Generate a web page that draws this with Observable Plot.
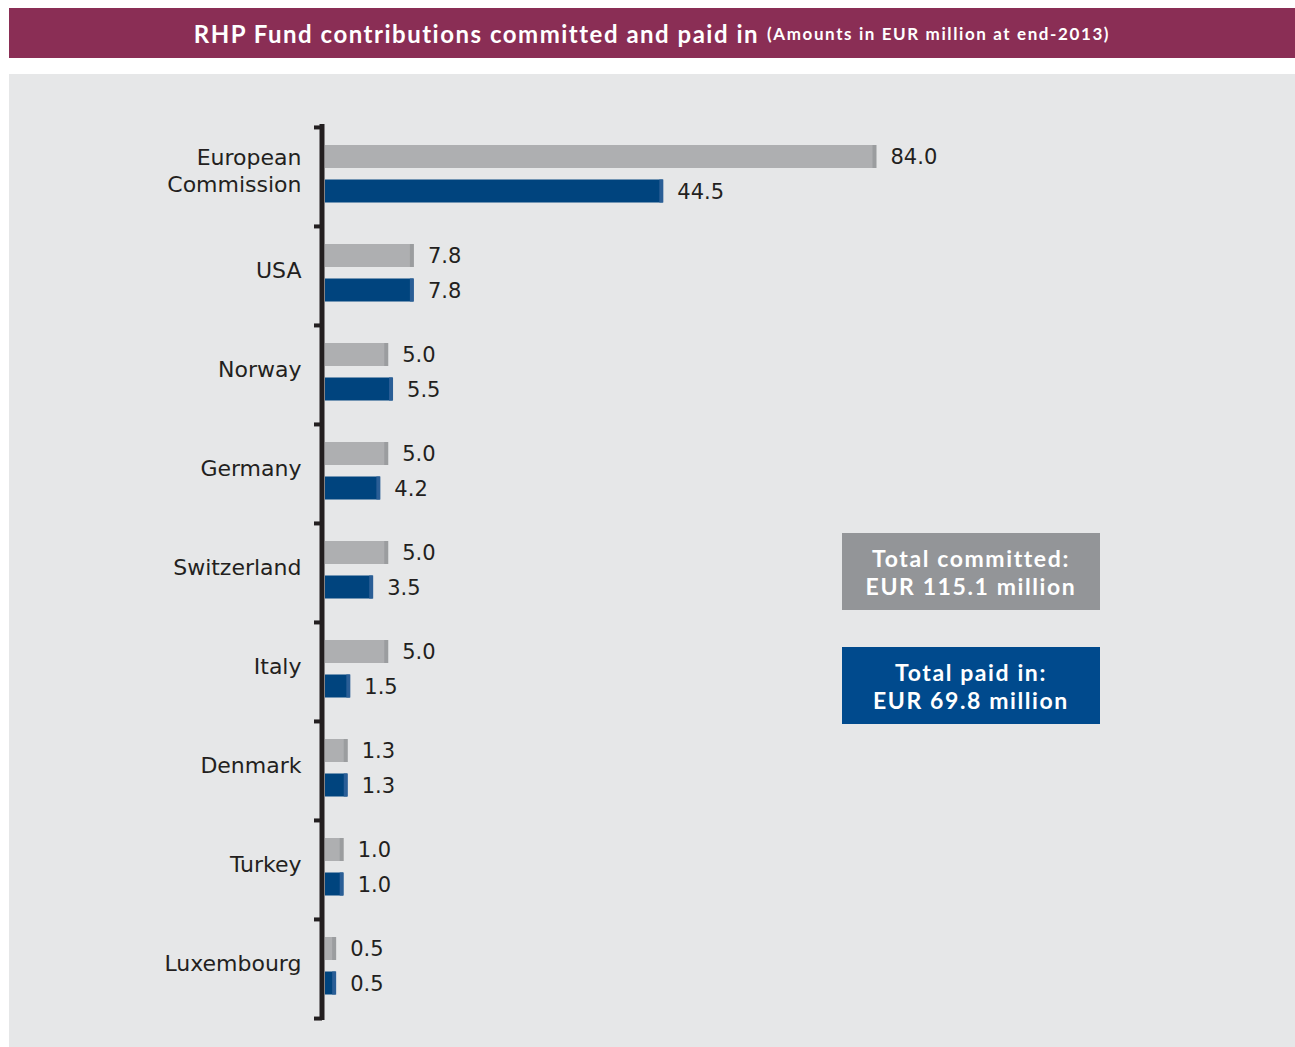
<!DOCTYPE html>
<html>
<head>
<meta charset="utf-8">
<script src="https://cdn.jsdelivr.net/npm/d3@7"></script>
<script src="https://cdn.jsdelivr.net/npm/@observablehq/plot@0.6"></script>
<style>
  html, body { margin: 0; padding: 0; background: #ffffff; }
  #page { position: relative; width: 1295px; height: 1047px; overflow: hidden; }
  #title {
    position: absolute; left: 9px; top: 8px; width: 1286px; height: 50px;
    background: #8A2E55; color: #fff; display: flex; align-items: center; justify-content: center;
    font-family: Lato, "DejaVu Sans", sans-serif; font-weight: 700; font-size: 24px; white-space: nowrap;
    letter-spacing: 1.5px;
  }
  #title .sub { font-size: 17px; margin-left: 8px; letter-spacing: 1.6px; }
  #chart { position: absolute; left: 9px; top: 74px; }
  .box {
    position: absolute; left: 842px; width: 258px; height: 77px; color: #fff;
    display: flex; align-items: center; justify-content: center; text-align: center;
    font-family: Lato, "DejaVu Sans", sans-serif; font-weight: 700; font-size: 23px; line-height: 28px;
    letter-spacing: 1.6px;
  }
</style>
</head>
<body>
<div id="page">
  <div id="title"><span>RHP Fund contributions committed and paid in</span><span class="sub">(Amounts in EUR million at end-2013)</span></div>
  <div id="chart"></div>
  <div class="box" id="boxC" style="top:533px;background:#939598;"></div>
  <div class="box" id="boxP" style="top:647px;background:#004A8D;"></div>
</div>
<script>
const countries = ["European Commission", "USA", "Norway", "Germany", "Switzerland", "Italy", "Denmark", "Turkey", "Luxembourg"];
const countryLabels = ["European\nCommission", "USA", "Norway", "Germany", "Switzerland", "Italy", "Denmark", "Turkey", "Luxembourg"];
const committed = [84.0, 7.8, 5.0, 5.0, 5.0, 5.0, 1.3, 1.0, 0.5];
const paidIn = [44.5, 7.8, 5.5, 4.2, 3.5, 1.5, 1.3, 1.0, 0.5];
const totalLines = [["Total committed:", "EUR 115.1 million"], ["Total paid in:", "EUR 69.8 million"]];

const rows = countries.map((c, i) => ({country: c, label: countryLabels[i], committed: committed[i], paid: paidIn[i]}));

const W = 1286, H = 973;
const mTop = 52, mBottom = 29;
const bw = (H - mTop - mBottom) / countries.length;
const ink = "#231F20";
const grayFace = "#AEAFB1", grayCap = "#9B9D9F";
const blueFace = "#00447E", blueCap = "#2A5E96";
const font = "DejaVu Sans, sans-serif";

const plot = Plot.plot({
  width: W, height: H,
  marginTop: mTop, marginBottom: mBottom,
  style: {background: "#E6E7E8", fontFamily: font},
  x: {type: "pow", exponent: 0.77, domain: [0, 84], range: [316, 867], axis: null},
  y: {type: "band", domain: countries, padding: 0, axis: null},
  marks: [
    Plot.barX(rows, {y: "country", x: "committed", fill: grayFace, insetTop: 18, insetBottom: 58}),
    Plot.tickX(rows, {y: "country", x: "committed", stroke: grayCap, strokeWidth: 4, dx: -2, insetTop: 18, insetBottom: 58}),
    Plot.barX(rows, {y: "country", x: "paid", fill: blueFace, insetTop: 52.5, insetBottom: 23.5}),
    Plot.tickX(rows, {y: "country", x: "paid", stroke: blueCap, strokeWidth: 4, dx: -2, insetTop: 52.5, insetBottom: 23.5}),
    Plot.ruleX([0], {stroke: ink, strokeWidth: 5, dx: -3.5, insetTop: -2, insetBottom: -2}),
    Plot.ruleY(countries, {y: d => d, x1: 0, x2: 0, dy: -bw / 2, insetLeft: -11, insetRight: 3, stroke: ink, strokeWidth: 4}),
    Plot.ruleY(countries.slice(-1), {y: d => d, x1: 0, x2: 0, dy: bw / 2, insetLeft: -11, insetRight: 3, stroke: ink, strokeWidth: 4}),
    Plot.text(rows, {y: "country", x: "committed", text: d => d.committed.toFixed(1), dx: 14, dy: -20, textAnchor: "start", fontSize: 21, fill: ink}),
    Plot.text(rows, {y: "country", x: "paid", text: d => d.paid.toFixed(1), dx: 14, dy: 15.5, textAnchor: "start", fontSize: 21, fill: ink}),
    Plot.text(rows, {y: "country", x: 0, text: "label", dx: -24, dy: -7, textAnchor: "end", fontSize: 22, lineHeight: 1.22, fill: ink})
  ]
});
document.getElementById("chart").appendChild(plot);
document.getElementById("boxC").innerHTML = totalLines[0].join("<br>");
document.getElementById("boxP").innerHTML = totalLines[1].join("<br>");
</script>
</body>
</html>
